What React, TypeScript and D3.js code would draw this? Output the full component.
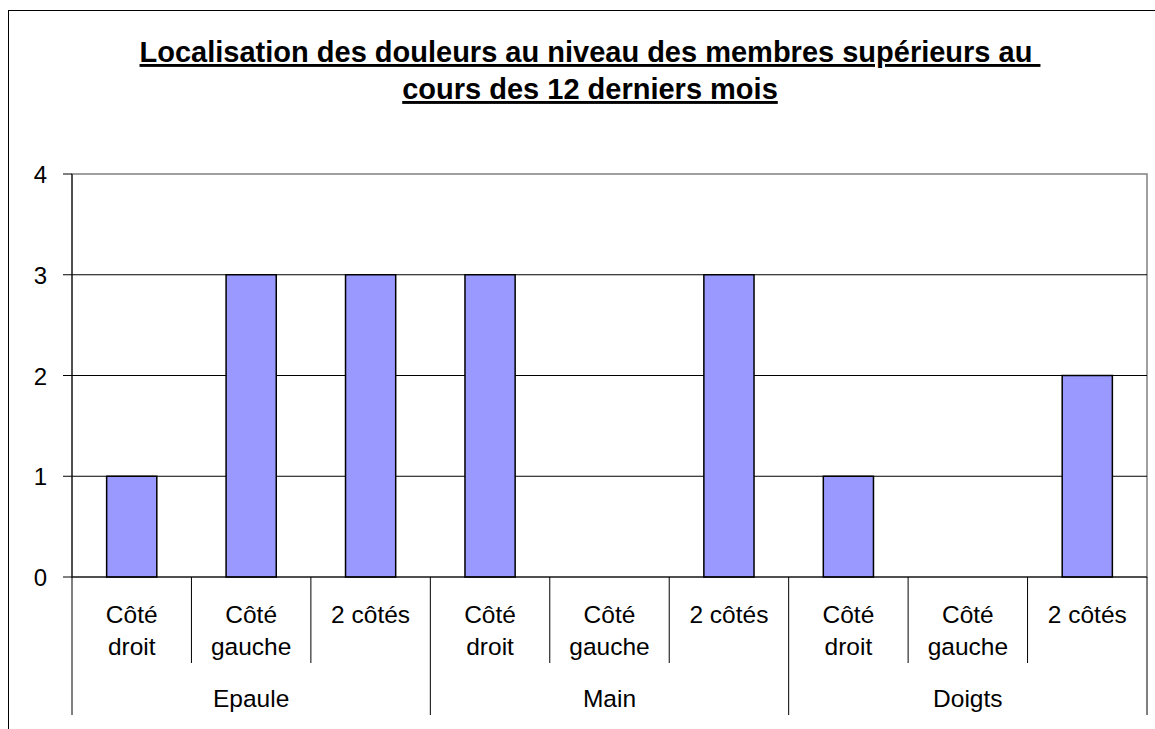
import React from "react";
import * as d3 from "d3";

// values
const groups = ["Epaule", "Main", "Doigts"];
const sides = ["Côté droit", "Côté gauche", "2 côtés"];
const counts = [1, 3, 3, 3, 0, 3, 1, 0, 2];
const yTicks = [0, 1, 2, 3, 4];
const titleLines = [
  "Localisation des douleurs au niveau des membres supérieurs au ",
  "cours des 12 derniers mois",
];

const W = 1155;
const H = 729;
const plot = { left: 72, right: 1147, top: 174, bottom: 577 };
const font = "'Liberation Sans', Arial, sans-serif";

// "Côté droit" wraps on two lines, "2 côtés" stays on one
const wrapLabel = (s: string) => (s.startsWith("2") ? [s] : s.split(" "));

const App = () => {
  const cats = groups.flatMap((g) => sides.map((s) => `${g}|${s}`));
  const rows = cats.map((key, i) => ({ key, side: key.split("|")[1], value: counts[i] }));

  const x = d3.scaleBand().domain(cats).range([plot.left, plot.right]).paddingInner(0).paddingOuter(0);
  const y = d3.scaleLinear().domain([0, 4]).range([plot.bottom, plot.top]);
  const barW = x.bandwidth() * 0.42;
  const groupW = x.bandwidth() * sides.length;

  return (
    <svg width={W} height={H} style={{ position: "absolute", left: 0, top: 0, display: "block" }}>
      {/* outer frame, cut off on the right and bottom like the source */}
      <rect x={8.5} y={10.5} width={W + 20} height={H + 20} fill="#fff" stroke="#000" strokeWidth={1} />

      {titleLines.map((t, i) => (
        <text
          key={i}
          x={590}
          y={62 + i * 37}
          textAnchor="middle"
          fontFamily={font}
          fontWeight="bold"
          fontSize={29}
          style={{ whiteSpace: "pre", textDecoration: "underline", textDecorationThickness: "3px" }}
        >
          {t}
        </text>
      ))}

      {/* plot area border */}
      <rect x={plot.left} y={plot.top} width={plot.right - plot.left} height={plot.bottom - plot.top} fill="none" stroke="#808080" strokeWidth={1.5} />

      {/* gridlines */}
      {yTicks.filter((t) => t > 0 && t < 4).map((t) => (
        <line key={t} x1={plot.left} x2={plot.right} y1={y(t)} y2={y(t)} stroke="#000" strokeWidth={1} />
      ))}

      {/* bars */}
      {rows.filter((d) => d.value > 0).map((d) => (
        <rect
          key={d.key}
          x={(x(d.key) ?? 0) + (x.bandwidth() - barW) / 2}
          y={y(d.value)}
          width={barW}
          height={y(0) - y(d.value)}
          fill="#9999FF"
          stroke="#000"
          strokeWidth={1.5}
        />
      ))}

      {/* y axis */}
      <line x1={plot.left} x2={plot.left} y1={plot.top} y2={plot.bottom} stroke="#000" strokeWidth={1} />
      {yTicks.map((t) => (
        <g key={t}>
          <line x1={plot.left - 9} x2={plot.left} y1={y(t)} y2={y(t)} stroke="#000" strokeWidth={1} />
          <text x={47} y={y(t) + 9} textAnchor="end" fontFamily={font} fontSize={24}>
            {t}
          </text>
        </g>
      ))}

      {/* x axis */}
      <line x1={plot.left} x2={plot.right} y1={plot.bottom} y2={plot.bottom} stroke="#000" strokeWidth={1} />

      {/* category dividers and labels */}
      {cats.map((c, i) => {
        const x0 = x(c) ?? 0;
        const isGroupStart = i % sides.length === 0;
        return (
          <g key={c}>
            <line x1={x0} x2={x0} y1={plot.bottom} y2={isGroupStart ? 715 : 663} stroke="#000" strokeWidth={1} />
            {wrapLabel(rows[i].side).map((w, j) => (
              <text key={j} x={x0 + x.bandwidth() / 2} y={623 + j * 32} textAnchor="middle" fontFamily={font} fontSize={24.5}>
                {w}
              </text>
            ))}
          </g>
        );
      })}
      <line x1={plot.right} x2={plot.right} y1={plot.bottom} y2={715} stroke="#000" strokeWidth={1} />

      {groups.map((g, gi) => {
        const x0 = x(cats[gi * sides.length]) ?? 0;
        return (
          <text key={g} x={x0 + groupW / 2} y={707} textAnchor="middle" fontFamily={font} fontSize={24.5}>
            {g}
          </text>
        );
      })}
    </svg>
  );
};

export default App;
